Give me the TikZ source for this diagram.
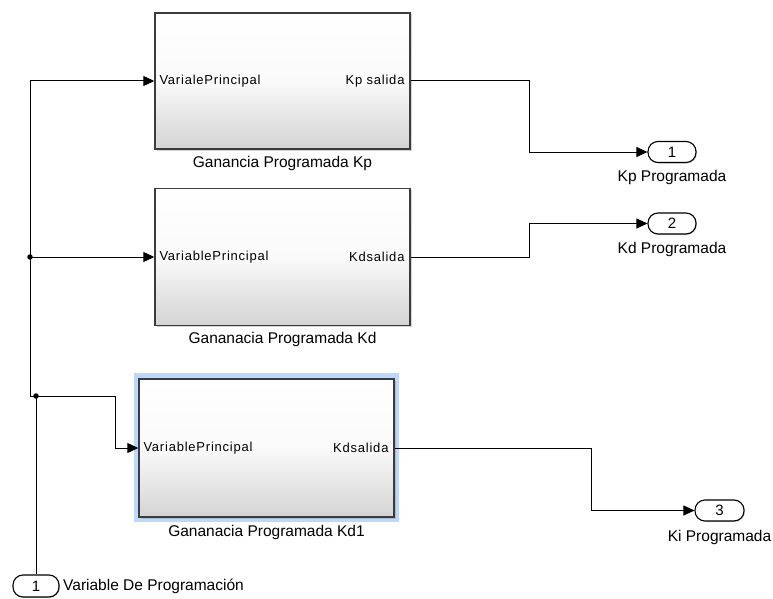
\documentclass[tikz,border=0pt]{standalone}
\usepackage{fontspec}
\setmainfont{Liberation Sans}
\usetikzlibrary{arrows.meta,shadows}
\definecolor{hl}{RGB}{188,216,250}
\definecolor{edge}{RGB}{60,60,60}
\begin{document}
\begin{tikzpicture}[x=1pt,y=-1pt,
  blk/.style={draw=edge,line width=1.4pt,minimum width=255pt,minimum height=136pt,
    top color=white,bottom color=black!17,middle color=black!2,inner sep=0pt,
    drop shadow={shadow xshift=1.5pt,shadow yshift=-1.5pt,opacity=0.35}},
  oport/.style={draw=black,line width=1.1pt,fill=white,rounded corners=10pt,
    minimum width=48pt,minimum height=21pt,inner sep=0pt,font=\fontsize{15}{16}\selectfont,
    drop shadow={shadow xshift=1pt,shadow yshift=-1pt,opacity=0.35}},
  inlbl/.style={inner sep=0pt,font=\fontsize{13}{14}\selectfont\addfontfeature{LetterSpace=6}},
  captxt/.style={inner sep=0pt,font=\fontsize{15.5}{17}\selectfont},
  plbl/.style={inner sep=0pt,font=\fontsize{15.5}{17}\selectfont},
  wire/.style={draw=black,line width=1pt},
  arr/.style={wire,-{Triangle[length=11pt,width=10pt]}},
  jdot/.style={circle,fill=black,inner sep=0pt,minimum size=5.5pt}
]
\useasboundingbox (0,0) rectangle (773,599);

% blocks
\node[blk] (b1) at (282.5,81) {};
\node[blk,minimum height=137pt] (b2) at (282.5,257) {};
\fill[hl] (134,373) rectangle (399,522);
\node[blk,minimum height=138pt] (b3) at (266.5,448) {};

% inner port labels
\node[inlbl,anchor=west] (b1i) at ([xshift=5pt]b1.west) {VarialePrincipal};
\node[inlbl,anchor=east] (b1o) at ([xshift=-6pt]b1.east) {Kp salida};
\node[inlbl,anchor=west] (b2i) at ([xshift=5pt]b2.west) {VariablePrincipal};
\node[inlbl,anchor=east] (b2o) at ([xshift=-6pt]b2.east) {Kdsalida};
\node[inlbl,anchor=west] (b3i) at ([xshift=5pt]b3.west) {VariablePrincipal};
\node[inlbl,anchor=east] (b3o) at ([xshift=-6pt]b3.east) {Kdsalida};

% captions
\node[captxt] (c1) at (282.5,163) {Ganancia Programada Kp};
\node[captxt] (c2) at (282.5,339) {Gananacia Programada Kd};
\node[captxt] (c3) at (266.5,532) {Gananacia Programada Kd1};

% out ports
\node[oport] (o1) at (672,152) {1};
\node[oport] (o2) at (672,223.5) {2};
\node[oport,minimum width=49pt] (o3) at (719.5,510.5) {3};
\node[plbl] (l1) at (672,177) {Kp Programada};
\node[plbl] (l2) at (672,249) {Kd Programada};
\node[plbl] (l3) at (719.5,537) {Ki Programada};

% in port
\node[oport,minimum width=46pt,minimum height=22pt] (in) at (36,586) {1};
\node[plbl,anchor=west] (inl) at (63,586) {Variable De Programación};

% junctions
\coordinate (j1) at (36,396);
\coordinate (c1c) at (30,396);
\coordinate (j0) at (30,257);

% wires
\draw[wire] (in.north) -- (j1);
\draw[arr] (j1) -- (c1c) |- (b1.west);
\draw[arr] (j0) -- (b2.west);
\draw[arr] (j1) -- ++(79,0) |- (b3.west);
\node[jdot] at (j0) {};
\node[jdot] at (j1) {};

\draw[arr] (b1.east) -- ++(119,0) |- (o1.west);
\draw[arr] (b2.east) -- ++(119,0) |- (o2.west);
\draw[arr] (b3.east) -- ++(197,0) |- (o3.west);
\end{tikzpicture}
\end{document}
